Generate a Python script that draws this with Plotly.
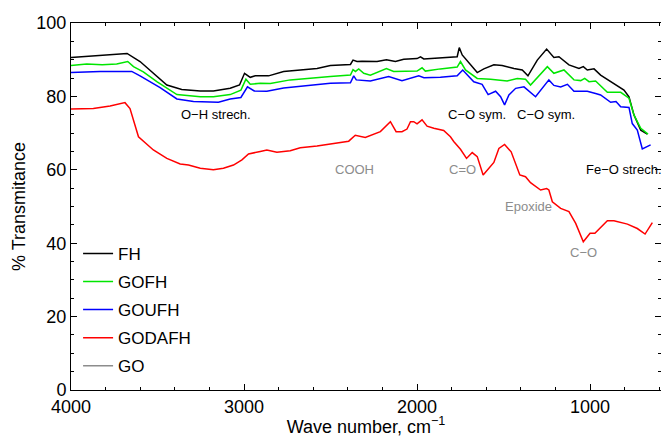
import plotly.graph_objects as go

fh_w = [4000, 3676, 3601, 3525, 3446, 3360, 3253, 3177, 3080, 3026, 2997, 2964, 2935, 2858, 2771, 2578, 2501,
        2385, 2370, 2347, 2318, 2231, 2177, 2125, 2077, 2000, 1980, 1961, 1865, 1768, 1756, 1739, 1652, 1614,
        1556, 1508, 1440, 1392, 1359, 1305, 1251, 1209, 1180, 1122, 1064, 1039, 1016, 977, 939, 862, 804, 775,
        746, 707, 669]
fh_t = [90.6, 91.7, 89.5, 86.3, 83.1, 81.9, 81.5, 81.5, 82.2, 83.1, 86.3, 85.2, 85.6, 85.6, 86.8, 87.6, 88.4,
        88.7, 89.9, 89.5, 89.6, 89.5, 90.0, 89.5, 90.1, 90.3, 90.8, 90.2, 90.4, 90.8, 93.3, 91.3, 86.5, 87.5,
        88.6, 88.4, 87.6, 87.2, 85.6, 89.9, 92.9, 90.6, 90.8, 88.6, 87.6, 88.1, 87.2, 87.5, 85.8, 83.5, 81.7, 79.9,
        74.9, 70.8, 69.7]

gofh_w = [4000, 3909, 3820, 3736, 3672, 3639, 3582, 3504, 3388, 3253, 3177, 3080, 3018, 2989, 2964, 2906, 2848,
          2733, 2501, 2385, 2370, 2356, 2337, 2308, 2270, 2177, 2135, 2000, 1971, 1952, 1865, 1768, 1749, 1720,
          1652, 1575, 1479, 1421, 1373, 1344, 1247, 1209, 1151, 1093, 1054, 1031, 1006, 968, 900, 823, 775, 746,
          707, 665]
gofh_t = [88.4, 88.8, 88.6, 88.8, 89.5, 88.1, 86.7, 84.0, 80.5, 79.9, 79.9, 80.5, 81.7, 84.7, 83.3, 83.6, 83.5,
          84.5, 85.4, 85.8, 87.3, 86.8, 87.5, 86.3, 85.8, 87.6, 86.8, 86.9, 87.8, 86.9, 87.5, 88.0, 89.5, 87.2,
          84.9, 84.7, 84.2, 84.9, 84.7, 83.1, 88.1, 86.3, 87.2, 84.5, 84.3, 84.9, 84.0, 84.2, 81.1, 81.1, 79.5, 74.9,
          71.3, 69.7]

goufh_w = [4000, 3832, 3649, 3601, 3485, 3388, 3292, 3148, 3080, 3018, 2980, 2941, 2868, 2771, 2501, 2385, 2366,
           2351, 2270, 2164, 2087, 1990, 1960, 1865, 1768, 1736, 1672, 1624, 1589, 1546, 1517, 1494, 1469, 1430,
           1382, 1315, 1238, 1209, 1170, 1131, 1093, 1016, 968, 939, 881, 850, 823, 775, 756, 727, 698, 650]
goufh_t = [86.5, 86.8, 86.8, 85.6, 82.4, 79.3, 78.6, 78.4, 79.3, 79.7, 82.6, 81.5, 81.4, 82.3, 83.6, 83.7, 85.6,
           84.5, 84.2, 85.4, 84.3, 85.6, 85.1, 85.2, 85.6, 87.2, 84.0, 83.3, 80.5, 81.4, 79.9, 77.7, 80.4, 82.2,
           82.6, 79.9, 84.5, 83.0, 82.6, 83.3, 81.4, 81.4, 80.8, 80.4, 78.4, 78.6, 77.2, 77.0, 72.6, 70.8, 65.7, 66.8]

godafh_w = [4000, 3871, 3774, 3688, 3659, 3610, 3524, 3446, 3369, 3321, 3253, 3177, 3119, 3061, 3012, 2974, 2906,
            2868, 2810, 2733, 2675, 2578, 2395, 2357, 2299, 2212, 2154, 2121, 2087, 2058, 2038, 2019, 2000, 1971,
            1942, 1903, 1846, 1807, 1788, 1749, 1714, 1681, 1652, 1618, 1556, 1527, 1494, 1456, 1406, 1373, 1344,
            1286, 1251, 1238, 1218, 1170, 1122, 1083, 1039, 1000, 972, 900, 862, 784, 727, 682, 640]
godafh_t = [76.6, 76.7, 77.4, 78.3, 76.7, 69.0, 65.4, 63.1, 61.6, 61.3, 60.4, 60.0, 60.4, 61.3, 62.7, 64.3, 65.0,
            65.4, 64.8, 65.2, 66.0, 66.5, 67.8, 69.4, 68.8, 70.4, 73.1, 70.4, 70.4, 71.1, 73.1, 73.1, 72.5, 73.6,
            71.9, 71.3, 70.7, 69.0, 67.7, 65.6, 63.1, 64.7, 63.6, 58.6, 62.0, 65.8, 66.9, 64.9, 58.6, 58.1, 56.5,
            54.5, 54.9, 54.5, 51.3, 49.5, 48.6, 45.4, 40.4, 42.7, 42.7, 46.1, 46.1, 45.2, 44.0, 42.5, 45.6]

# GO appears only in the legend (no visible curve in the reference)
go_w = [None]
go_t = [None]

labels = ["O\u2212H strech.", "COOH", "C=O", "C\u2212O sym.", "C\u2212O sym.", "Fe\u2212O strech.", "Epoxide", "C\u2212O"]
label_w = [3161, 2362, 1737, 1656, 1257, 806, 1355, 1037]
label_t = [75, 60, 60, 75, 75, 60, 50, 37.5]
label_gray = [False, True, True, False, False, False, True, True]

FONT = "Liberation Sans, Arial, Helvetica, sans-serif"

fig = go.Figure()
series = [("FH", fh_w, fh_t, "black"), ("GOFH", gofh_w, gofh_t, "#00e600"),
          ("GOUFH", goufh_w, goufh_t, "#0000ff"), ("GODAFH", godafh_w, godafh_t, "#ff0000"),
          ("GO", go_w, go_t, "#8c8c8c")]
for name, w, t, c in series:
    fig.add_trace(go.Scatter(x=w, y=t, mode="lines", name=name, legendgroup=name,
                             line=dict(color=c, width=1.5), showlegend=True))

for txt, w, t, g in zip(labels, label_w, label_t, label_gray):
    fig.add_annotation(x=w, y=t, text=txt, showarrow=False, xanchor="center", yanchor="middle",
                       font=dict(size=13, color="#8c8c8c" if g else "black", family=FONT))

axis_common = dict(showline=True, linecolor="black", linewidth=1, mirror="ticks", ticks="inside",
                   tickcolor="black", showgrid=False, zeroline=False,
                   tickfont=dict(size=18, color="black", family=FONT))
fig.update_xaxes(range=[4000, 590], tickvals=[4000, 3000, 2000, 1000], ticklen=6,
                 minor=dict(dtick=200, ticklen=3, ticks="inside", tickcolor="black", showgrid=False),
                 title=dict(text="Wave number, cm<sup>\u22121</sup>", font=dict(size=18, color="black", family=FONT),
                            standoff=6),
                 **axis_common)
fig.update_yaxes(range=[0, 100], tickvals=[0, 20, 40, 60, 80, 100], ticklen=6,
                 minor=dict(dtick=5, ticklen=3, ticks="inside", tickcolor="black", showgrid=False),
                 title=dict(text="% Transmitance", font=dict(size=18, color="black", family=FONT), standoff=6),
                 **axis_common)

fig.update_layout(width=661, height=437, margin=dict(l=71, r=0, t=23, b=47),
                  plot_bgcolor="white", paper_bgcolor="white",
                  font=dict(family=FONT, color="black"),
                  legend=dict(x=0.012, y=0.42, xanchor="left", yanchor="top", bgcolor="rgba(0,0,0,0)",
                              font=dict(size=17, color="black", family=FONT), tracegroupgap=3))

fig.write_html("out.html")
